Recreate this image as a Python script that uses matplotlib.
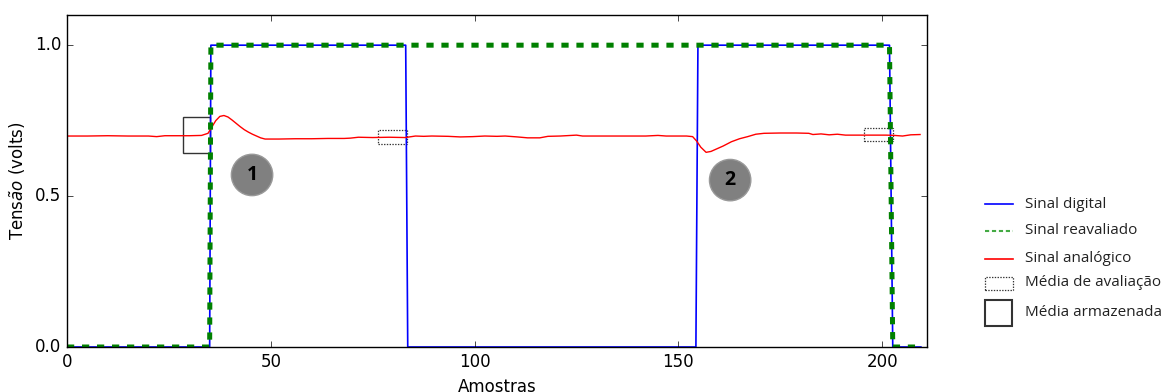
import matplotlib
matplotlib.use('Agg')
from matplotlib import pyplot as plt
from matplotlib.lines import Line2D
from matplotlib.patches import Rectangle

# sinal digital (pontos de transicao)
dig_x = [0, 35, 35.3, 83.1, 83.6, 154.3, 154.8, 201.8, 202.6, 209.5]
dig_y = [0, 0, 1, 1, 0, 0, 1, 1, 0, 0]

# sinal reavaliado
rea_x = [0, 35, 35.3, 201.8, 202.6, 209.5]
rea_y = [0, 0, 1, 1, 0, 0]

# sinal analogico
red_x = [0, 5, 10, 15, 20, 22, 24, 30, 33, 34.6,
         35.5, 36.5, 37.5, 38.5, 39.5, 40.5, 41.5, 42.5, 43.5, 44.5,
         45.5, 46.5, 47.5, 48.6, 52, 56, 60, 64, 68, 69.5,
         71.5, 75, 79, 83, 85.5, 87.5, 89.5, 93.5, 96.5, 99.5,
         102.5, 105.5, 107.5, 110.5, 113, 116, 118, 121, 125, 126.5,
         131, 137, 142, 145, 147, 152, 153.5, 154.5, 155.5, 156.8,
         158, 159, 161, 163, 165, 167, 169, 171, 175, 179,
         182, 183, 185, 187, 189, 191, 194, 197, 201, 203,
         205, 207, 209.3]
red_y = [0.699, 0.699, 0.700, 0.699, 0.699, 0.697, 0.700, 0.700, 0.701, 0.708,
         0.728, 0.750, 0.764, 0.767, 0.762, 0.752, 0.741, 0.730, 0.720, 0.712,
         0.705, 0.699, 0.693, 0.689, 0.689, 0.690, 0.690, 0.691, 0.691, 0.692,
         0.695, 0.694, 0.695, 0.694, 0.699, 0.698, 0.699, 0.698, 0.696, 0.697,
         0.699, 0.698, 0.699, 0.696, 0.693, 0.693, 0.698, 0.699, 0.702, 0.699,
         0.699, 0.699, 0.699, 0.701, 0.699, 0.699, 0.697, 0.682, 0.662, 0.645,
         0.648, 0.654, 0.666, 0.680, 0.690, 0.697, 0.705, 0.708, 0.709, 0.709,
         0.708, 0.704, 0.706, 0.703, 0.705, 0.702, 0.702, 0.702, 0.702, 0.701,
         0.699, 0.703, 0.704]

# janelas de media: (x, y, largura, altura)
media_armazenada = [(28.5, 0.643, 6.5, 0.12)]
media_avaliacao = [(76.2, 0.672, 7.3, 0.0465), (195.6, 0.681, 7.1, 0.0435)]

# marcadores numerados
marcadores = [('1', 45.4, 0.570), ('2', 162.7, 0.553)]

legenda = ['Sinal digital', 'Sinal reavaliado', 'Sinal analógico',
           'Média de avaliação', 'Média armazenada']

plt.style.use('classic')
plt.rcParams['mathtext.fontset'] = 'dejavusans'

fig = plt.figure(figsize=(11.61, 3.92), dpi=100, facecolor='white')
ax = fig.add_axes([67/1161, 45/392, 860/1161, 332/392])

ax.plot(dig_x, dig_y, color='b', lw=1.2)
ax.plot(red_x, red_y, color='r', lw=1.0)
ax.plot(rea_x, rea_y, color='g', lw=3.6, ls=(0, (5.2, 5.6)))

for (x0, y0, w, h) in media_armazenada:
    ax.add_patch(Rectangle((x0, y0), w, h, fill=False, ec='#333333', lw=1.0))
for (x0, y0, w, h) in media_avaliacao:
    ax.add_patch(Rectangle((x0, y0), w, h, fill=False, ec='#333333', lw=0.9,
                           ls=(0, (1, 1))))

for (t, x0, y0) in marcadores:
    ax.text(x0, y0, t, ha='center', va='center', fontsize=14, fontweight='bold',
            family='Open Sans',
            bbox=dict(boxstyle='circle,pad=0.55', fc='#808080', ec='#999999', lw=1))

ax.set_xlim(0, 211)
ax.set_ylim(0, 1.1)
ax.set_xticks([0, 50, 100, 150, 200])
ax.set_yticks([0.0, 0.5, 1.0])
ax.set_xlabel('Amostras')
ax.set_ylabel(r'Tens$\tilde{a}o$ (volts)')

# legenda fora do eixo
def fx(px):
    return px / 1161.0

def fy(py):
    return 1 - py / 392.0

estilos = [dict(color='b', lw=1.2, ls='-'),
           dict(color='#44aa44', lw=1.5, ls=(0, (3, 2))),
           dict(color='r', lw=1.2, ls='-')]
linhas_y = [204, 231, 259]
for st, py in zip(estilos, linhas_y):
    fig.add_artist(Line2D([fx(985), fx(1013)], [fy(py), fy(py)], **st))
fig.add_artist(Rectangle((fx(985), fy(290)), fx(28), 13/392, fill=False,
                         ec='#333333', lw=0.9, ls=(0, (1, 1))))
fig.add_artist(Rectangle((fx(985), fy(326)), fx(27), 26/392, fill=False,
                         ec='#333333', lw=1.5))
textos_y = [204, 231, 259, 282, 313]
for t, py in zip(legenda, textos_y):
    fig.text(fx(1025), fy(py), t, ha='left', va='center', fontsize=11,
             family='Open Sans', color='#222222')

fig.savefig('out.png', dpi=100, facecolor='white')
